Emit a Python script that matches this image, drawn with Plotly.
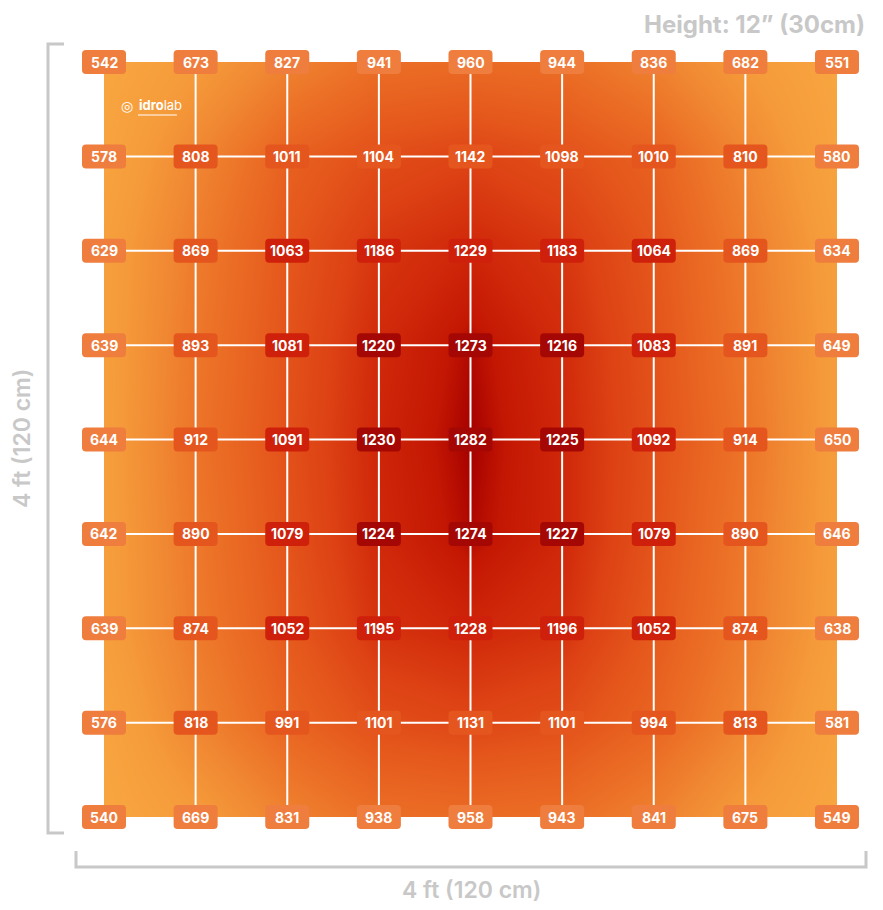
"""PPFD map, 4x4 ft footprint, fixture at 12 in."""

import plotly.graph_objects as go

# PPFD readings, top row first (umol/m2/s)
row_1 = [542, 673, 827, 941, 960, 944, 836, 682, 551]
row_2 = [578, 808, 1011, 1104, 1142, 1098, 1010, 810, 580]
row_3 = [629, 869, 1063, 1186, 1229, 1183, 1064, 869, 634]
row_4 = [639, 893, 1081, 1220, 1273, 1216, 1083, 891, 649]
row_5 = [644, 912, 1091, 1230, 1282, 1225, 1092, 914, 650]
row_6 = [642, 890, 1079, 1224, 1274, 1227, 1079, 890, 646]
row_7 = [639, 874, 1052, 1195, 1228, 1196, 1052, 874, 638]
row_8 = [576, 818, 991, 1101, 1131, 1101, 994, 813, 581]
row_9 = [540, 669, 831, 938, 958, 943, 841, 675, 549]
ppfd = [row_1, row_2, row_3, row_4, row_5, row_6, row_7, row_8, row_9]

cols = list(range(9))
rows = list(range(9))

HEIGHT_LABEL = "Height: 12\u201d (30cm)"
SIDE_LABEL = "4 ft (120 cm)"

# page geometry (the page body adds an 8px offset)
OFF = 8
W, H = 875, 902
ML, MR, MT, MB = 96, 46, 54, 93
PW, PH = W - ML - MR, H - MT - MB

GREY = "#c8c8c8"
RING_COLORS = ["#ee7d3e", "#e5561f", "#ce200b", "#a50804"]
BG_SCALE = [
    [0.00, "#f8a640"],
    [0.20, "#f59a3a"],
    [0.36, "#f08732"],
    [0.55, "#eb6d25"],
    [0.70, "#e5581c"],
    [0.82, "#dd4214"],
    [0.92, "#d0280a"],
    [0.97, "#c41703"],
    [1.00, "#a50000"],
]


def px(x, y):
    """Pixel position in the window -> paper coordinates."""
    return (x - OFF - ML) / PW, 1 - (y - OFF - MT) / PH


def rounded_box(cx, cy, w=44, h=24, r=4):
    """Rounded rectangle path in paper units around a paper-space centre."""
    hw, hh = w / 2 / PW, h / 2 / PH
    rx, ry = r / PW, r / PH
    x0, x1, y0, y1 = cx - hw, cx + hw, cy - hh, cy + hh
    return (
        f"M {x0 + rx},{y0} L {x1 - rx},{y0} Q {x1},{y0} {x1},{y0 + ry} "
        f"L {x1},{y1 - ry} Q {x1},{y1} {x1 - rx},{y1} "
        f"L {x0 + rx},{y1} Q {x0},{y1} {x0},{y1 - ry} "
        f"L {x0},{y0 + ry} Q {x0},{y0} {x0 + rx},{y0} Z"
    )


fig = go.Figure()

# smooth light-intensity background
fig.add_trace(
    go.Heatmap(
        z=ppfd,
        x=cols,
        y=rows,
        zsmooth="best",
        colorscale=BG_SCALE,
        zmin=min(min(r) for r in ppfd),
        zmax=max(max(r) for r in ppfd),
        showscale=False,
        hoverinfo="skip",
    )
)

# white measuring grid (interior lines only)
for r in rows[1:-1]:
    fig.add_trace(go.Scatter(x=[cols[0], cols[-1]], y=[r, r], mode="lines",
                             line=dict(color="white", width=2), hoverinfo="skip"))
for c in cols[1:-1]:
    fig.add_trace(go.Scatter(x=[c, c], y=[rows[0], rows[-1]], mode="lines",
                             line=dict(color="white", width=2), hoverinfo="skip"))

shapes = []
annotations = []
for r in rows:
    for c in cols:
        ring = min(r, c, 8 - r, 8 - c)
        cx, cy = c / 8, 1 - r / 8
        shapes.append(dict(type="path", xref="paper", yref="paper", layer="above",
                           path=rounded_box(cx, cy), fillcolor=RING_COLORS[min(ring, 3)],
                           line=dict(width=0)))
        annotations.append(dict(x=c, y=r, xref="x", yref="y", text=str(ppfd[r][c]),
                                showarrow=False,
                                font=dict(family="Inter", size=14, color="white", weight=700)))

# dimension brackets
bx0, by0 = px(64, 44)
bx1, by1 = px(48, 833)
bx2, by2 = px(64, 833)
shapes.append(dict(type="path", xref="paper", yref="paper",
                   path=f"M {bx0},{by0} L {bx1},{by0} L {bx1},{by1} L {bx2},{by2}",
                   line=dict(color=GREY, width=3)))
hx0, hy0 = px(76, 851)
hx1, hy1 = px(866, 867)
shapes.append(dict(type="path", xref="paper", yref="paper",
                   path=f"M {hx0},{hy0} L {hx0},{hy1} L {hx1},{hy1} L {hx1},{hy0}",
                   line=dict(color=GREY, width=3)))

tx, ty = px(867, 24)
annotations.append(dict(x=tx, y=ty, xref="paper", yref="paper", text=HEIGHT_LABEL,
                        showarrow=False, xanchor="right", yanchor="middle",
                        font=dict(family="Inter", size=24, color=GREY, weight=700)))
sx, sy = px(471, 890)
annotations.append(dict(x=sx, y=sy, xref="paper", yref="paper", text=SIDE_LABEL,
                        showarrow=False, xanchor="center", yanchor="middle",
                        font=dict(family="Inter", size=23, color=GREY, weight=600)))
lx, ly = px(22, 439)
annotations.append(dict(x=lx, y=ly, xref="paper", yref="paper", text=SIDE_LABEL,
                        showarrow=False, textangle=-90, xanchor="center", yanchor="middle",
                        font=dict(family="Inter", size=23, color=GREY, weight=600)))

# brand mark: word + underline
gx, gy = px(137, 105)
annotations.append(dict(x=gx, y=gy, xref="paper", yref="paper",
                        text="<b>idro</b>lab",
                        showarrow=False, xanchor="left", yanchor="middle",
                        font=dict(family="Inter", size=13, color="white")))
ux0, uy = px(138, 115)
ux1, _ = px(177, 115)
shapes.append(dict(type="line", xref="paper", yref="paper", x0=ux0, x1=ux1, y0=uy, y1=uy,
                   line=dict(color="white", width=1)))
ix, iy = px(127, 106)
annotations.append(dict(x=ix, y=iy, xref="paper", yref="paper", text="\u25ce",
                        showarrow=False, xanchor="center", yanchor="middle",
                        font=dict(family="DejaVu Sans", size=14, color="white")))

fig.update_layout(
    width=W,
    height=H,
    margin=dict(l=ML, r=MR, t=MT, b=MB),
    paper_bgcolor="white",
    plot_bgcolor="white",
    showlegend=False,
    shapes=shapes,
    annotations=annotations,
    xaxis=dict(range=[cols[0], cols[-1]], visible=False, fixedrange=True),
    yaxis=dict(range=[rows[-1], rows[0]], visible=False, fixedrange=True),
)

fig.write_html("out.html")
